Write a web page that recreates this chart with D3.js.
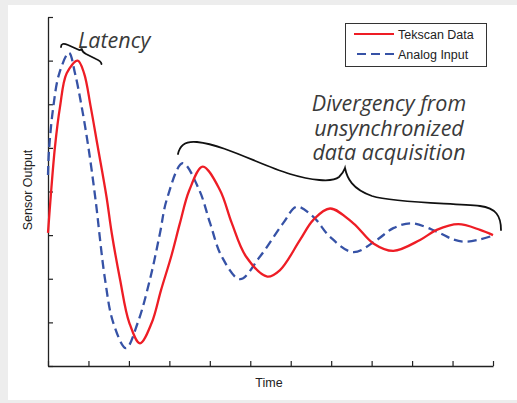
<!DOCTYPE html>
<html>
<head>
<meta charset="utf-8">
<script src="https://cdn.jsdelivr.net/npm/d3@7"></script>
<style>
  html, body { margin: 0; padding: 0; background: #ededed; }
  svg { display: block; }
</style>
</head>
<body>
<svg id="chart" width="517" height="403"></svg>
<script>
// ---- data ----
const xTicks = [0,1,2,3,4,5,6,7,8,9,10,11];
const yTicks = [0,1,2,3,4,5,6,7,8];

const tekscanTime  = [0, 0.067, 0.173, 0.297, 0.462, 0.734, 0.892, 1.056, 1.229, 1.446, 1.575, 1.78, 2.01, 2.274, 2.564, 2.794, 3.054, 3.263, 3.493, 3.825, 4.252, 4.541, 4.895, 5.421, 5.736, 6.23, 6.559, 6.972, 7.548, 8.042, 8.536, 9.197, 9.609, 10.143, 10.68, 11];
const tekscanValue = [3.05, 3.88, 5.03, 5.94, 6.71, 7.0, 6.71, 5.94, 5.03, 3.88, 3.05, 1.99, 0.99, 0.52, 0.99, 1.74, 2.54, 3.28, 4.03, 4.57, 4.03, 3.28, 2.51, 2.05, 2.2, 2.89, 3.35, 3.61, 3.27, 2.81, 2.64, 2.89, 3.12, 3.25, 3.12, 3.0];

const analogTime  = [0, 0.025, 0.131, 0.279, 0.519, 0.667, 0.833, 0.996, 1.17, 1.409, 1.614, 1.928, 2.218, 2.522, 2.769, 2.934, 3.33, 3.74, 4.005, 4.294, 4.747, 5.241, 5.817, 6.148, 6.559, 6.972, 7.548, 8.126, 8.536, 8.991, 9.609, 10.02, 10.309, 10.68, 11];
const analogValue = [4.38, 4.95, 5.94, 6.71, 7.18, 6.71, 5.94, 5.03, 3.85, 1.99, 0.99, 0.41, 0.99, 1.99, 3.05, 3.81, 4.65, 4.03, 3.28, 2.51, 1.99, 2.51, 3.28, 3.65, 3.42, 2.96, 2.61, 2.89, 3.16, 3.27, 3.08, 2.9, 2.85, 2.9, 2.99];

const seriesNames = ["Tekscan Data", "Analog Input"];
const xLabel = "Time";
const yLabel = "Sensor Output";
const latencyLabel = "Latency";
const divergencyLines = ["Divergency from", "unsynchronized", "data acquisition"];

// ---- layout ----
const svg = d3.select("#chart");
const plotLeft = 48, plotRight = 493, plotTop = 17, plotBottom = 366;

// card
svg.append("rect").attr("x", 8).attr("y", 5).attr("width", 509).attr("height", 395).attr("fill", "#ffffff");

const x = d3.scaleLinear().domain([0, 11]).range([plotLeft, plotRight]);
const y = d3.scaleLinear().domain([0, 8]).range([plotBottom, plotTop]);

const axisColor = "#222";

const gx = svg.append("g").attr("transform", `translate(0,${plotBottom})`)
  .call(d3.axisBottom(x).tickValues(xTicks).tickSizeInner(-5).tickSizeOuter(0).tickFormat(""));
const gy = svg.append("g").attr("transform", `translate(${plotLeft},0)`)
  .call(d3.axisLeft(y).tickValues(yTicks).tickSizeInner(-5).tickSizeOuter(0).tickFormat(""));
[gx, gy].forEach(g => {
  g.selectAll("path.domain").attr("stroke", axisColor).attr("stroke-width", 1.3);
  g.selectAll(".tick line").attr("stroke", axisColor).attr("stroke-width", 1.2);
});

// axis labels
svg.append("text").attr("x", 269).attr("y", 386.5).attr("text-anchor", "middle")
  .attr("font-family", "Liberation Sans, Arial, sans-serif").attr("font-size", 12.5).attr("fill", "#222")
  .text(xLabel);
svg.append("text").attr("transform", "translate(32,190) rotate(-90)").attr("text-anchor", "middle")
  .attr("font-family", "Liberation Sans, Arial, sans-serif").attr("font-size", 12.5).attr("fill", "#222")
  .text(yLabel);

// lines
const line = d3.line().x(d => x(d[0])).y(d => y(d[1])).curve(d3.curveCatmullRom.alpha(0.5));
const tekscan = tekscanTime.map((t, i) => [t, tekscanValue[i]]);
const analog = analogTime.map((t, i) => [t, analogValue[i]]);

const red = "#ee1d25", blue = "#3652a6";

svg.append("path").datum(analog).attr("d", line).attr("fill", "none")
  .attr("stroke", blue).attr("stroke-width", 2.3).attr("stroke-dasharray", "9,5");
svg.append("path").datum(tekscan).attr("d", line).attr("fill", "none")
  .attr("stroke", red).attr("stroke-width", 2.3);

// legend
const lg = svg.append("g");
lg.append("rect").attr("x", 345.5).attr("y", 23.5).attr("width", 141).attr("height", 43)
  .attr("fill", "#fff").attr("stroke", "#333").attr("stroke-width", 1);
lg.append("line").attr("x1", 354).attr("x2", 394).attr("y1", 34).attr("y2", 34)
  .attr("stroke", red).attr("stroke-width", 2);
lg.append("line").attr("x1", 357).attr("x2", 395).attr("y1", 54).attr("y2", 54)
  .attr("stroke", blue).attr("stroke-width", 2).attr("stroke-dasharray", "9,5");
seriesNames.forEach((n, i) => {
  lg.append("text").attr("x", 398).attr("y", 38.5 + i * 20)
    .attr("font-family", "Liberation Sans, Arial, sans-serif").attr("font-size", 12.5).attr("fill", "#222")
    .text(n);
});

// annotations
const annFont = "'Open Sans', Lato, sans-serif";
svg.append("text").attr("x", 78).attr("y", 48).attr("font-family", annFont).attr("font-style", "italic")
  .attr("font-weight", 400).attr("font-size", 21.5).attr("fill", "#3a3a3a").text(latencyLabel);
const divText = svg.append("text").attr("text-anchor", "middle")
  .attr("font-family", annFont).attr("font-style", "italic").attr("font-weight", 400)
  .attr("font-size", 21.5).attr("fill", "#3a3a3a");
divergencyLines.forEach((t, i) => {
  divText.append("tspan").attr("x", 389).attr("y", 111 + i * 24.5).text(t);
});

// braces
svg.append("path")
  .attr("d", "M61,47 Q61,42 68,45 L78,49.5 Q81,51 81.5,48.5 Q82.5,52.5 86,54 L96,59 Q101,61 101.5,64")
  .attr("fill", "none").attr("stroke", "#111").attr("stroke-width", 1.8).attr("stroke-linecap", "round");
svg.append("path")
  .attr("d", "M178,154 C180,144 188,141 197,142 C225,145 260,165 290,174 C310,180 332,183 339,177 C342,174 344,171 345,168 C347,178 352,189 372,196 C395,203 450,203 480,206 C496,208 501,216 501,230")
  .attr("fill", "none").attr("stroke", "#111").attr("stroke-width", 1.8).attr("stroke-linecap", "round");
</script>
</body>
</html>
